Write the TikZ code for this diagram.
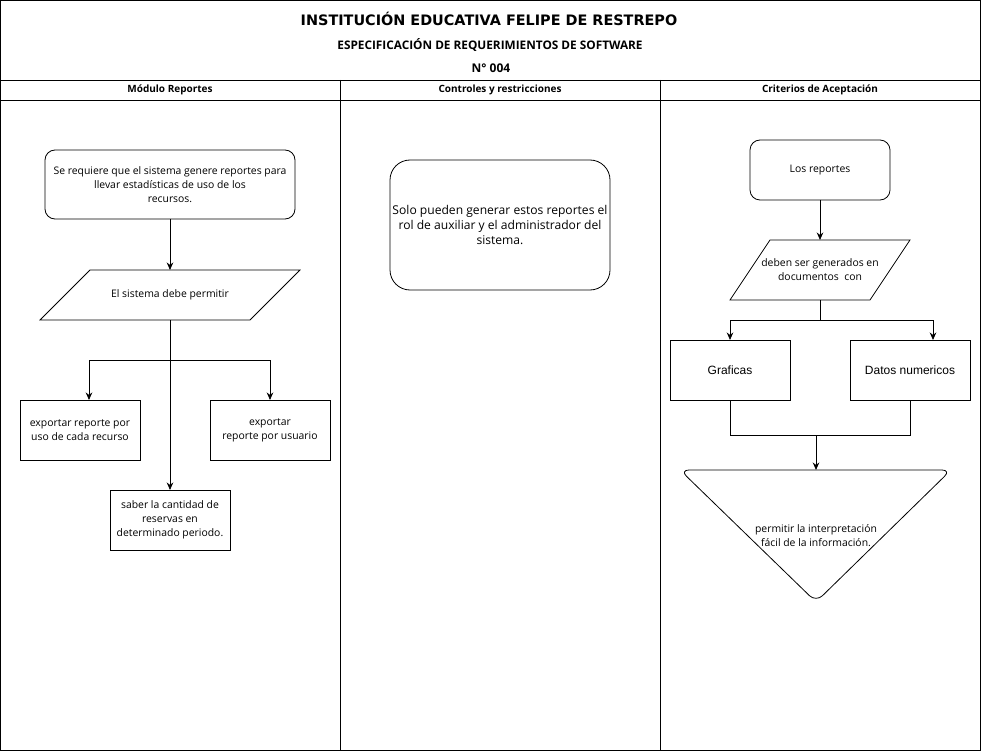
\documentclass[tikz,border=0pt]{standalone}
\usepackage{fontspec}
\setmainfont{Open Sans}
\newfontfamily\arialfont{Liberation Sans}
\newfontfamily\titlefont{DejaVu Sans}
\usetikzlibrary{calc,arrows.meta}

\begin{document}
\begin{tikzpicture}[x=1pt,y=-1pt,line width=0.8pt,
    >={Stealth[length=7.5pt,width=6.5pt]},
    tx/.style={font=\fontsize{10.4}{14}\selectfont,align=center,inner sep=1pt,outer sep=0pt},
    hd/.style={font=\fontsize{10}{11}\selectfont\bfseries},
    box/.style={tx,draw,minimum width=120,minimum height=60},
    rbox/.style={box,rounded corners=10pt}]
      \useasboundingbox(0,0)rectangle(981,751);
      % frame
      \draw(0.5,0.5)rectangle(980.5,750.5);
      \draw(0.5,80)--(980.5,80);
      \draw(0.5,100)--(980.5,100);
      \draw(340,80)--(340,750.5);
      \draw(660,80)--(660,750.5);
      \node[font=\titlefont\fontsize{14.4}{16}\selectfont\bfseries](T) at (489,19){INSTITUCIÓN EDUCATIVA FELIPE DE RESTREPO};
      \node[font=\fontsize{11.8}{13}\selectfont\bfseries](E) at (490,45){ESPECIFICACIÓN DE REQUERIMIENTOS DE SOFTWARE};
      \node[font=\fontsize{12}{13}\selectfont\bfseries](N) at (491,68){N° 004};
      \node[hd](H1) at (170,90){Módulo Reportes};
      \node[hd](H2) at (500,90){Controles y restricciones};
      \node[hd](H3) at (820,90){Criterios de Aceptación};
      
      % Modulo Reportes
      \node[rbox,minimum width=250,minimum height=69](R) at (170,184.5){Se requiere que el sistema genere reportes para\\llevar estadísticas de uso de los\\recursos.};
      \node[tx,minimum width=210,minimum height=50](P) at (170,295){El sistema debe permitir};
      \draw($(P.north west)+(25,0)$)--($(P.north east)+(25,0)$)--($(P.south east)+(-25,0)$)--($(P.south west)+(-25,0)$)--cycle;
      \node[box](X1) at (80,430){exportar reporte por\\uso de cada recurso};
      \node[box](X2) at (270,430){exportar\\reporte por usuario};
      \node[box](S) at (170,520){saber la cantidad de\\reservas en\\determinado periodo.};
      \coordinate(B) at (170,360);
      \coordinate(L) at (89,360);
      \draw[->](R)--(P);
      \draw[->](P)--(S);
      \draw[->](B)--(L)--(L|-X1.north);
      \draw[->](B)-|(X2.north);
      
      % Controles y restricciones
      \node[rbox,rounded corners=20pt,minimum width=220,minimum height=130,font=\fontsize{12.1}{15}\selectfont](C) at (500,225){Solo pueden generar estos reportes el\\rol de auxiliar y el administrador del\\sistema.};
      
      % Criterios de Aceptacion
      \node[rbox,minimum width=140](A) at (820,170){Los reportes};
      \node[tx,minimum width=140,minimum height=60](D) at (820,270){deben ser generados en\\documentos\ \ con};
      \draw($(D.north west)+(20,0)$)--($(D.north east)+(20,0)$)--($(D.south east)+(-20,0)$)--($(D.south west)+(-20,0)$)--cycle;
      \node[box,font=\arialfont\fontsize{12}{14}\selectfont](G) at (730,370){Graficas};
      \node[box,font=\arialfont\fontsize{12}{14}\selectfont](Q) at (910,370){Datos numericos};
      \coordinate(T1) at (680,470);
      \coordinate(T2) at (951,470);
      \coordinate(T3) at (816,602);
      \draw[rounded corners=9pt](T1)--(T2)--(T3)--cycle;
      \node[tx](I) at (816,536){permitir la interpretación\\fácil de la información.};
      \coordinate(K) at (820,320);
      \coordinate(K2) at (933,320);
      \coordinate(M) at (816,435);
      \draw[->](A)--(D);
      \draw(D.south)--(K);
      \draw[->](K)-|(G.north);
      \draw[->](K)--(K2)--(K2|-Q.north);
      \draw(G.south)|-(M);
      \draw(Q.south)|-(M);
      \draw[->](M)--(M|-T1);
\end{tikzpicture}
\end{document}
